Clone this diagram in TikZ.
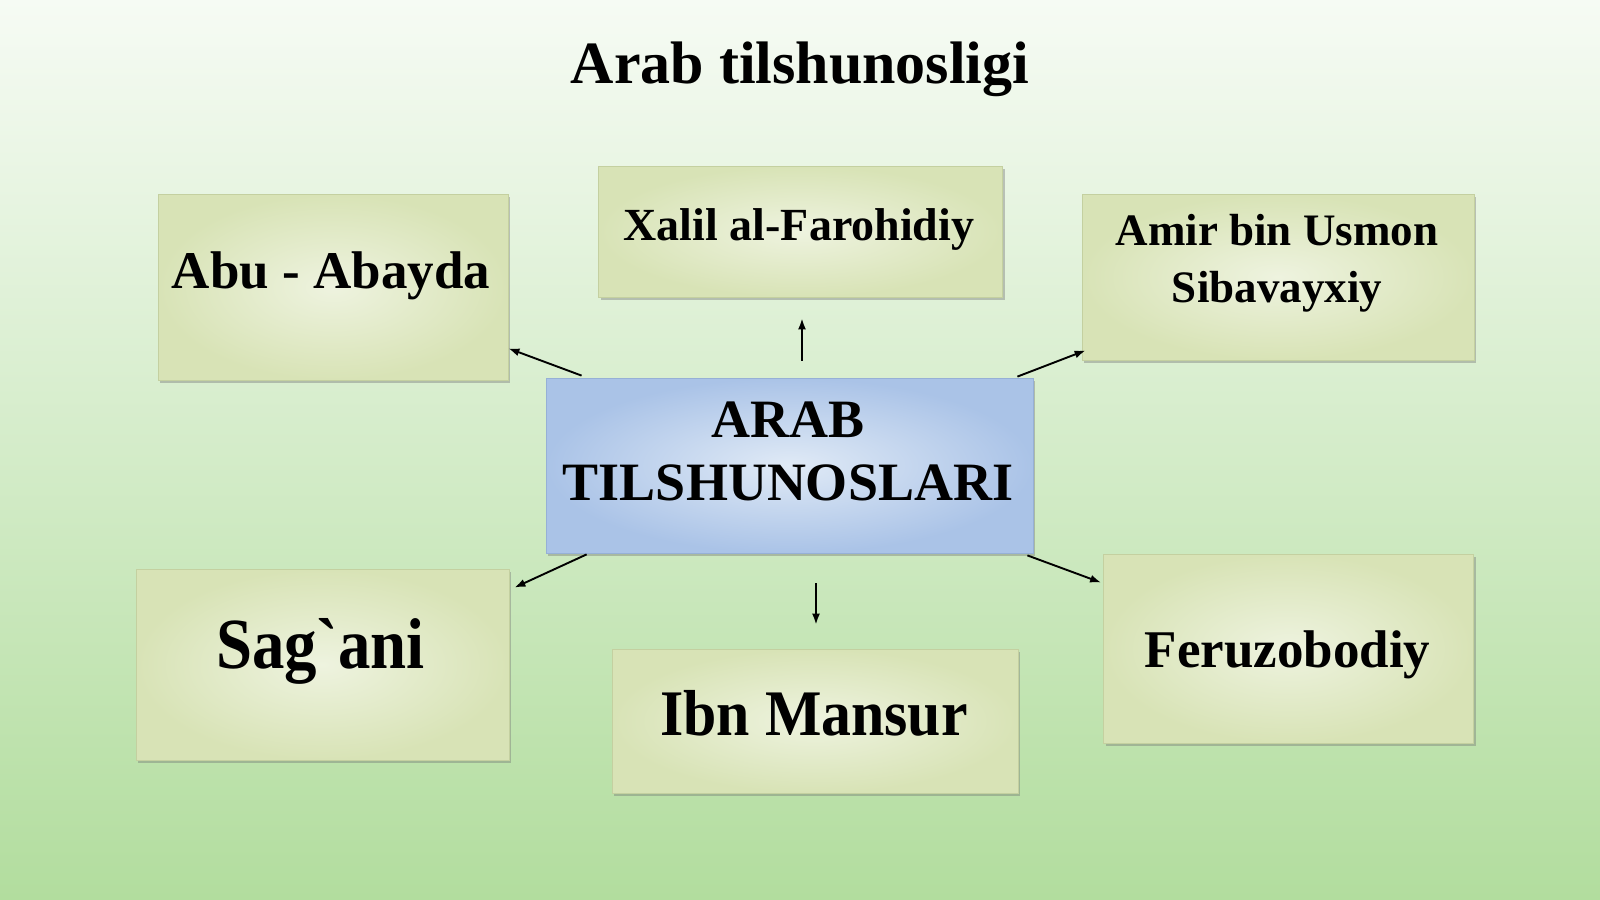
\documentclass[tikz,border=0pt]{standalone}
\usepackage{fontspec}
\setmainfont{Liberation Serif}[Ligatures=TeXOff]
\usetikzlibrary{arrows.meta,shadows,calc}
\definecolor{bgtop}{RGB}{246,251,244}
\definecolor{bgmid}{RGB}{208,236,196}
\definecolor{bgbot}{RGB}{178,221,158}
\definecolor{boxin}{RGB}{238,243,223}
\definecolor{boxout}{RGB}{216,227,182}
\definecolor{boxedge}{RGB}{196,208,160}
\definecolor{cin}{RGB}{224,234,246}
\definecolor{cout}{RGB}{170,195,231}
\definecolor{cedge}{RGB}{150,176,214}
\begin{document}
\begin{tikzpicture}[x=1pt,y=-1pt,
  box/.style={draw=boxedge, line width=0.8pt, shading=radial, inner color=boxin, outer color=boxout,
    drop shadow={shadow xshift=2pt, shadow yshift=-3pt, opacity=0.4, fill=black!55}, inner sep=0},
  cbox/.style={box, draw=cedge, inner color=cin, outer color=cout},
  txt/.style={text=black, inner sep=0, anchor=base, align=center},
  link/.style={-{Latex[length=11pt,width=8pt]}, line width=1.9pt, black}]
\useasboundingbox (0,0) rectangle (1600,899);
\shade[top color=bgtop, middle color=bgmid, bottom color=bgbot] (0,0) rectangle (1600,899);

\node[txt, font=\bfseries\fontsize{60}{72}\selectfont] (title) at (800,84) {Arab tilshunosligi};

\node[box, minimum width=404, minimum height=131] (xalil) at (800.5,231.5) {};
\node[box, minimum width=350, minimum height=186] (abu) at (333,287) {};
\node[box, minimum width=392, minimum height=166] (amir) at (1278,277) {};
\node[cbox, minimum width=487, minimum height=175] (c) at (789.5,465.5) {};
\node[box, minimum width=373, minimum height=191] (sag) at (322.5,664.5) {};
\node[box, minimum width=406, minimum height=144] (ibn) at (815,721) {};
\node[box, minimum width=370, minimum height=189] (fer) at (1288.5,648.5) {};

\node[txt, font=\bfseries\fontsize{46}{55}\selectfont] (xalilt) at (799,240) {Xalil al-Farohidiy};
\node[txt, font=\bfseries\fontsize{53}{63}\selectfont] (abut) at (331,288) {Abu - Abayda};
\node[txt, font=\bfseries\fontsize{45}{57}\selectfont] (amirt) at (1277,302) {Amir bin Usmon\\Sibavayxiy};
\node[txt, font=\bfseries\fontsize{54}{63}\selectfont] (ct) at (788,500) {ARAB\\TILSHUNOSLARI};
\node[txt, font=\bfseries\fontsize{72}{80}\selectfont] (sagt) at (320.5,668) {\scalebox{0.9}[1]{Sag`ani}};
\node[txt, font=\bfseries\fontsize{65}{75}\selectfont] (ibnt) at (814,735) {\scalebox{0.92}[1]{Ibn Mansur}};
\node[txt, font=\bfseries\fontsize{53}{63}\selectfont] (fert) at (1287.5,667) {Feruzobodiy};

\draw[link] ($(c.north west)+(36,-2)$) -- ($(abu.south east)+(0,-32)$);
\draw[link] ($(c.north)+(12.5,-17)$) -- ($(xalil.south)+(1.5,21)$);
\draw[link] ($(c.north east)+(-16,-1)$) -- ($(amir.south west)+(4,-10)$);
\draw[link] ($(c.south west)+(41,1)$) -- ($(sag.north east)+(5,19)$);
\draw[link] ($(c.south)+(26.5,30)$) -- ($(ibn.north)+(1,-24)$);
\draw[link] ($(c.south east)+(-6,2)$) -- ($(fer.north west)+(-2,29)$);
\end{tikzpicture}
\end{document}
